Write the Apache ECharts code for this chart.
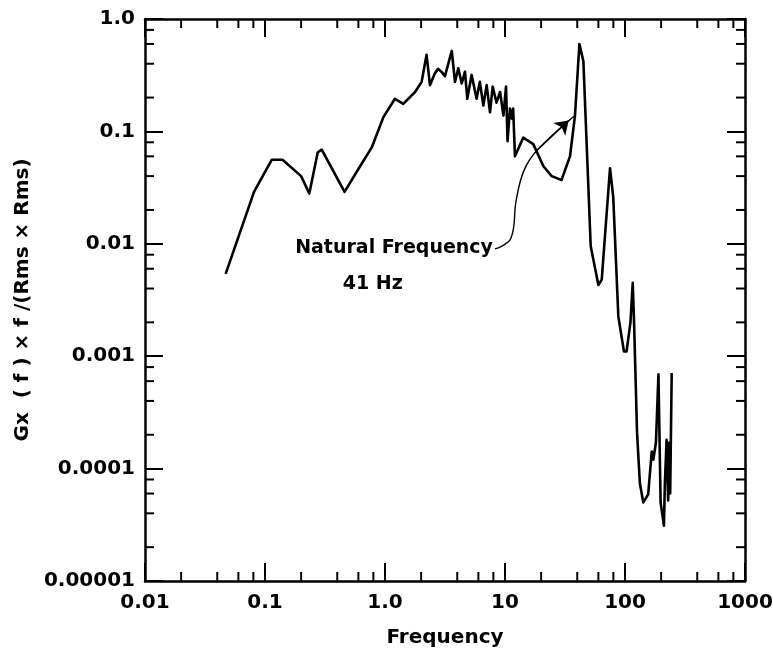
<!DOCTYPE html>
<html>
<head>
<meta charset="utf-8">
<script src="https://cdn.jsdelivr.net/npm/echarts@6/dist/echarts.min.js"></script>
<style>html,body{margin:0;padding:0;background:#fff}#c{width:773px;height:661px}</style>
</head>
<body>
<div id="c"></div>
<script>
// ---- data ----
const frequency = [0.047, 0.081, 0.114, 0.14, 0.20, 0.234, 0.275, 0.297, 0.46, 0.62, 0.776, 0.97, 1.21, 1.42, 1.78, 2.02, 2.22, 2.37, 2.61, 2.77, 2.95, 3.16, 3.6, 3.83, 4.08, 4.36, 4.64, 4.85, 5.27, 5.8, 6.17, 6.6, 7.03, 7.5, 7.9, 8.5, 9.1, 9.7, 10.2, 10.5, 11.0, 11.4, 11.7, 12.1, 14.2, 17.2, 20.9, 24.5, 29.6, 34.8, 38.3, 41.7, 45, 51.8, 60, 64, 75, 79.8, 88, 98, 103, 111, 116, 119, 126, 133, 142, 156, 164, 167, 172, 181, 190, 198, 211, 215, 222, 229, 233, 238, 245];
const gx = [0.0054, 0.029, 0.056, 0.056, 0.040, 0.028, 0.065, 0.069, 0.029, 0.049, 0.072, 0.134, 0.195, 0.176, 0.224, 0.276, 0.48, 0.258, 0.33, 0.36, 0.34, 0.31, 0.52, 0.276, 0.364, 0.267, 0.34, 0.195, 0.318, 0.195, 0.276, 0.17, 0.258, 0.148, 0.25, 0.18, 0.224, 0.138, 0.25, 0.082, 0.16, 0.13, 0.16, 0.06, 0.088, 0.077, 0.049, 0.040, 0.037, 0.06, 0.138, 0.6, 0.42, 0.0095, 0.0043, 0.0048, 0.047, 0.026, 0.00226, 0.0011, 0.0011, 0.002, 0.0045, 0.002, 0.00021, 0.000074, 0.00005, 0.000059, 0.000112, 0.000142, 0.00012, 0.00017, 0.00069, 0.00005, 0.000031, 0.000074, 0.00018, 0.000052, 0.00017, 0.00006, 0.00071];

const xTickLabels = ['0.01', '0.1', '1.0', '10', '100', '1000'];
const yTickLabels = ['0.00001', '0.0001', '0.001', '0.01', '0.1', '1.0'];
const minorMultipliers = [2, 4, 6, 8];
const xDecades = [0.01, 0.1, 1, 10, 100];
const yDecades = [0.00001, 0.0001, 0.001, 0.01, 0.1];

// annotation
const arrowF = [8.25, 11.2, 12.4, 14.4, 18.5];
const arrowV = [0.009, 0.0112, 0.0245, 0.045, 0.068];
const arrowHeadEnd = [34, 0.125];
const arrowTailEnd = [38, 0.138];
const noteText = ['Natural Frequency', '41 Hz'];
const noteF = [1.19, 0.79];
const noteV = [0.0092, 0.0044];

// ---- build ----
const XMIN = 0.01, XMAX = 1000, YMIN = 0.00001, YMAX = 1;
const xMinor = [], yMinor = [];
xDecades.forEach(d => minorMultipliers.forEach(m => xMinor.push([+(d * m).toPrecision(3), 0.001])));
yDecades.forEach(d => minorMultipliers.forEach(m => yMinor.push([1, +(d * m).toPrecision(3)])));

const FONT = 'DejaVu Sans';
const axisLine = { show: true, onZero: false, lineStyle: { color: '#000', width: 2.5 } };
const majorTick = { show: true, inside: true, length: 18, lineStyle: { color: '#000', width: 2 } };

function xlab(v) { return xTickLabels[Math.round(Math.log10(v)) + 2]; }
function ylab(v) { return yTickLabels[Math.round(Math.log10(v)) + 5]; }

const chart = echarts.init(document.getElementById('c'), null, { renderer: 'canvas' });

const TL = 9;
chart.setOption({
  animation: false,
  backgroundColor: '#fff',
  grid: { left: 145, right: 28, top: 19, bottom: 80, containLabel: false, outerBoundsMode: 'none' },
  xAxis: [
    { type: 'log', logBase: 10, min: XMIN, max: XMAX, splitNumber: 5, position: 'bottom',
      axisLine, axisTick: majorTick, splitLine: { show: false }, minorTick: { show: false },
      axisLabel: { formatter: xlab, color: '#000', fontFamily: FONT, fontSize: 20, fontWeight: 'bold', margin: 12 },
      name: 'Frequency', nameLocation: 'middle', nameGap: 47,
      nameTextStyle: { color: '#000', fontFamily: FONT, fontSize: 20, fontWeight: 'bold', verticalAlign: 'top' } },
    { type: 'log', logBase: 10, min: XMIN, max: XMAX, splitNumber: 5, position: 'top',
      axisLine, axisTick: majorTick, splitLine: { show: false }, axisLabel: { show: false } }
  ],
  yAxis: [
    { type: 'log', logBase: 10, min: YMIN, max: YMAX, splitNumber: 5, position: 'left',
      axisLine, axisTick: majorTick, splitLine: { show: false }, minorTick: { show: false },
      axisLabel: { formatter: ylab, color: '#000', fontFamily: FONT, fontSize: 20, fontWeight: 'bold', margin: 10 },
      name: 'Gx  ( f ) × f /(Rms × Rms)', nameLocation: 'middle', nameGap: 96, nameRotate: 90,
      nameTextStyle: { color: '#000', fontFamily: FONT, fontSize: 20, fontWeight: 'bold' } },
    { type: 'log', logBase: 10, min: YMIN, max: YMAX, splitNumber: 5, position: 'right',
      axisLine, axisTick: majorTick, splitLine: { show: false }, axisLabel: { show: false } }
  ],
  series: [
    {
      type: 'line', name: 'Gx', xAxisIndex: 0, yAxisIndex: 0,
      data: frequency.map((f, i) => [f, gx[i]]),
      showSymbol: false, symbol: 'none',
      lineStyle: { color: '#000', width: 2.6, join: 'round' }
    },
    {
      type: 'line', name: 'arrow', xAxisIndex: 0, yAxisIndex: 0,
      data: arrowF.map((f, i) => [f, arrowV[i]]).concat([arrowTailEnd]),
      smooth: 0.4, showSymbol: false, symbol: 'none',
      lineStyle: { color: '#000', width: 1.4 },
      markLine: {
        silent: true, symbol: ['none', 'arrow'], symbolSize: 13, animation: false,
        lineStyle: { color: '#000', width: 1.4, type: 'solid' }, label: { show: false },
        data: [[{ coord: [arrowF[arrowF.length - 1], arrowV[arrowV.length - 1]] }, { coord: arrowHeadEnd }]]
      },
      markPoint: {
        symbol: 'circle', symbolSize: 0, silent: true,
        label: { show: true, position: 'inside', color: '#000', fontFamily: FONT, fontSize: 19, fontWeight: 'bold',
                 formatter: p => p.name },
        data: noteText.map((t, i) => ({ name: t, coord: [noteF[i], noteV[i]] }))
      }
    },
    {
      type: 'custom', name: 'xminor', xAxisIndex: 0, yAxisIndex: 0, clip: false, silent: true,
      data: xMinor,
      renderItem: (params, api) => {
        const v = api.value(0);
        const b = api.coord([v, YMIN]), t = api.coord([v, YMAX]);
        const st = { stroke: '#000', lineWidth: 2 };
        return { type: 'group', children: [
          { type: 'line', shape: { x1: b[0], y1: b[1], x2: b[0], y2: b[1] - TL }, style: st },
          { type: 'line', shape: { x1: t[0], y1: t[1], x2: t[0], y2: t[1] + TL }, style: st }
        ] };
      }
    },
    {
      type: 'custom', name: 'yminor', xAxisIndex: 0, yAxisIndex: 0, clip: false, silent: true,
      data: yMinor,
      renderItem: (params, api) => {
        const v = api.value(1);
        const l = api.coord([XMIN, v]), r = api.coord([XMAX, v]);
        const st = { stroke: '#000', lineWidth: 2 };
        return { type: 'group', children: [
          { type: 'line', shape: { x1: l[0], y1: l[1], x2: l[0] + TL, y2: l[1] }, style: st },
          { type: 'line', shape: { x1: r[0], y1: r[1], x2: r[0] - TL, y2: r[1] }, style: st }
        ] };
      }
    }
  ]
});
</script>
</body>
</html>
